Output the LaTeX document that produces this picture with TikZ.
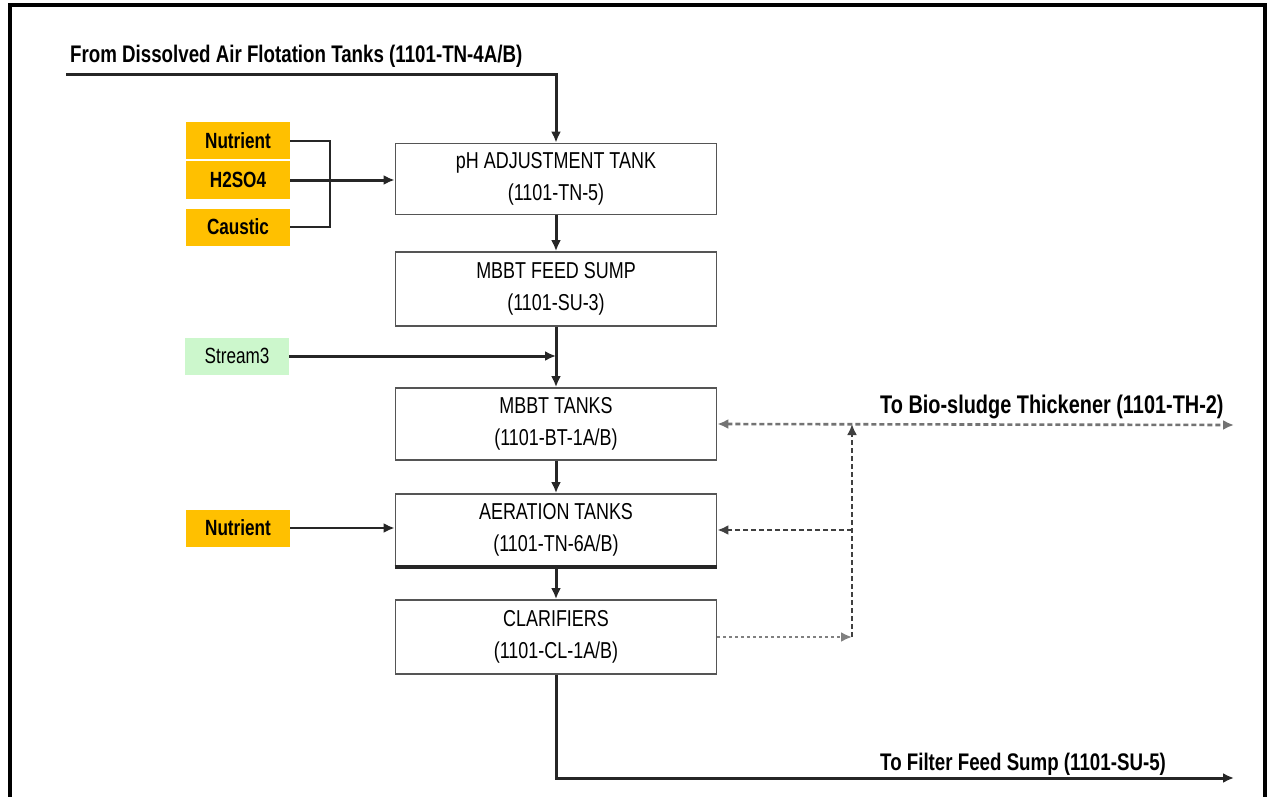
\documentclass[tikz,border=0pt]{standalone}
\usepackage{fontspec}
\usetikzlibrary{arrows.meta}
\newfontfamily\cf[FakeStretch=0.78]{Liberation Sans}
\definecolor{orng}{HTML}{FFC000}
\definecolor{lgreen}{HTML}{CCF7CC}
\definecolor{boxline}{HTML}{555555}
\begin{document}
\begin{tikzpicture}[x=1pt,y=-1pt,
  tank/.style={draw=boxline,line width=1.8pt,minimum width=321pt,inner sep=0pt,
    align=center,font=\cf\fontsize{23}{32}\selectfont,fill=white},
  chem/.style={fill=orng,minimum width=104pt,minimum height=37pt,inner sep=0pt,
    font=\cf\bfseries\fontsize{22}{24}\selectfont},
  flow/.style={line width=3pt,draw=black!85,-{Latex[length=11pt,width=10pt]}},
  thin/.style={line width=2.6pt,draw=black!85},
  recyc/.style={line width=2.6pt,draw=black!75,dash pattern=on 5pt off 3pt},
  lbl/.style={font=\cf\bfseries\fontsize{24}{26}\selectfont,inner sep=0pt,anchor=base west}]
\useasboundingbox (0,0) rectangle (1269,797);
\fill[white] (0,0) rectangle (1269,797);
% frame
\draw[line width=4pt] (10,797) -- (10,5) -- (1265,5) -- (1265,797);

% tanks
\node[tank,minimum height=71pt] (ph) at (556,179) {pH ADJUSTMENT TANK\\(1101-TN-5)};
\node[tank,minimum height=74pt] (sump) at (556,289) {MBBT FEED SUMP\\(1101-SU-3)};
\node[tank,minimum height=72pt] (mbbt) at (556,424) {MBBT TANKS\\(1101-BT-1A/B)};
\node[tank,minimum height=72pt] (aer) at (556,530) {AERATION TANKS\\(1101-TN-6A/B)};
\node[tank,minimum height=74pt] (clar) at (556,637) {CLARIFIERS\\(1101-CL-1A/B)};
\draw[line width=4pt,draw=black!85] (aer.south west) -- (aer.south east);

% chemicals
\node[chem] (nut1) at (238,141) {Nutrient};
\node[chem] (h2) at (238,180) {H2SO4};
\node[chem] (caus) at (238,227) {Caustic};
\node[chem,fill=lgreen,font=\cf\fontsize{22}{24}\selectfont] (st) at (237,356) {Stream3};
\node[chem] (nut2) at (238,528) {Nutrient};

% labels
\node[lbl] (title) at (70,63) {From Dissolved Air Flotation Tanks (1101-TN-4A/B)};
\node[lbl,font=\cf\bfseries\fontsize{25.5}{27}\selectfont] (biol) at (880,413) {To Bio-sludge Thickener (1101-TH-2)};
\node[lbl] (filt) at (880,770) {To Filter Feed Sump (1101-SU-5)};

% coordinates
\coordinate (in) at (66,75);
\coordinate (jx) at (330,0);
\coordinate (jv) at (852,0);
\coordinate (bio) at (1234,425);
\coordinate (out) at (1234,778);

% main flow
\draw[flow] (in) -| (ph.north);
\draw[thin,line width=2.2pt] (nut1.east) -- (nut1.east -| jx) -- (caus.east -| jx) -- (caus.east);
\draw[flow] (h2.east) -- (h2.east -| ph.west);
\draw[flow] (ph.south) -- (sump.north);
\draw[flow] (sump.south) -- (mbbt.north);
\draw[flow] (st.east) -- (st.east -| sump.south);
\draw[flow] (mbbt.south) -- (aer.north);
\draw[flow,line width=2.2pt] (nut2.east) -- (nut2.east -| aer.west);
\draw[flow] (aer.south) -- (clar.north);
\draw[flow] (clar.south) |- (out);

% recycle / waste sludge
\draw[recyc,draw=black!55,{Latex[length=11pt,width=10pt]}-{Latex[length=11pt,width=10pt]}] (mbbt.east) -- (bio);
\draw[recyc,-{Latex[length=11pt,width=10pt]}] (clar.east -| jv) -- (mbbt.east -| jv);
\draw[recyc,-{Latex[length=11pt,width=10pt]}] (aer.east -| jv) -- (aer.east);
\draw[recyc,draw=black!50,dash pattern=on 3pt off 3pt,-{Latex[length=11pt,width=10pt]}] (clar.east) -- (clar.east -| jv);
\end{tikzpicture}
\end{document}
